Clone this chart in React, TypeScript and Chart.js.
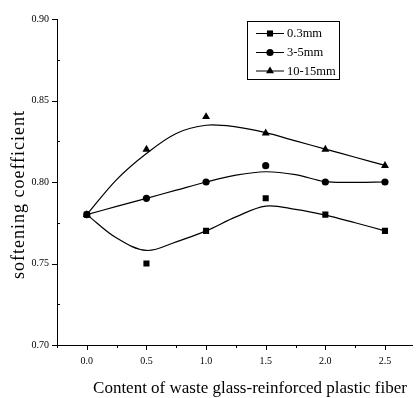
import React, { useEffect, useRef } from 'react';
import { Chart, registerables } from 'chart.js';

Chart.register(...registerables);

// measured data points
const xValues = [0.0, 0.5, 1.0, 1.5, 2.0, 2.5];
const series03 = [0.78, 0.75, 0.77, 0.79, 0.78, 0.77];
const series35 = [0.78, 0.79, 0.80, 0.81, 0.80, 0.80];
const series1015 = [0.78, 0.82, 0.84, 0.83, 0.82, 0.81];

// fitted curves
const fitX = [0, 0.25, 0.5, 0.75, 1.0, 1.25, 1.5, 1.75, 2.0, 2.25, 2.5];
const fit03 = [0.78, 0.7656, 0.758, 0.7633, 0.77, 0.7786, 0.7852, 0.7832, 0.7797, 0.775, 0.77];
const fit35 = [0.78, 0.785, 0.79, 0.795, 0.80, 0.8042, 0.8063, 0.8045, 0.8002, 0.7998, 0.80];
const fit1015 = [0.78, 0.8015, 0.8175, 0.8298, 0.8348, 0.8338, 0.8303, 0.8252, 0.8202, 0.8152, 0.8102];

const seriesLabels = ['0.3mm', '3-5mm', '10-15mm'];
const seriesMarkers = ['rect', 'circle', 'triangle'];

const xMajorTicks = [0.0, 0.5, 1.0, 1.5, 2.0, 2.5];
const xMinorTicks = [-0.25, 0.25, 0.75, 1.25, 1.75, 2.25];
const yMajorTicks = [0.70, 0.75, 0.80, 0.85, 0.90];
const yMinorTicks = [0.725, 0.775, 0.825, 0.875];

const xTitle = 'Content of waste glass-reinforced plastic fiber';
const yTitle = 'softening coefficient';

const SERIF = "'Liberation Serif', 'Times New Roman', serif";
const markerRadius: Record<string, number> = { rect: 4.3, circle: 3.6, triangle: 4.6 };

function drawMarker(ctx: CanvasRenderingContext2D, style: string, x: number, y: number) {
  const r = markerRadius[style];
  ctx.beginPath();
  if (style === 'rect') {
    const s = Math.SQRT1_2 * r;
    ctx.rect(x - s, y - s, 2 * s, 2 * s);
  } else if (style === 'circle') {
    ctx.arc(x, y, r, 0, Math.PI * 2);
  } else {
    const w = r * Math.sqrt(3) / 2;
    ctx.moveTo(x, y - r);
    ctx.lineTo(x + w, y + r / 2);
    ctx.lineTo(x - w, y + r / 2);
    ctx.closePath();
  }
  ctx.fill();
}

const decorPlugin = {
  id: 'decor',
  afterDraw(chart: any) {
    const ctx: CanvasRenderingContext2D = chart.ctx;
    const xs = chart.scales.x;
    const ys = chart.scales.y;
    const area = chart.chartArea;
    ctx.save();
    ctx.strokeStyle = '#000';
    ctx.fillStyle = '#000';
    ctx.lineWidth = 1;
    // tick marks
    ctx.beginPath();
    xMajorTicks.forEach((v) => {
      const px = Math.round(xs.getPixelForValue(v)) + 0.5;
      ctx.moveTo(px, area.bottom);
      ctx.lineTo(px, area.bottom + 5);
    });
    xMinorTicks.forEach((v) => {
      const px = Math.round(xs.getPixelForValue(v)) + 0.5;
      ctx.moveTo(px, area.bottom);
      ctx.lineTo(px, area.bottom + 3);
    });
    yMajorTicks.forEach((v) => {
      const py = Math.round(ys.getPixelForValue(v)) + 0.5;
      ctx.moveTo(area.left - 5, py);
      ctx.lineTo(area.left, py);
    });
    yMinorTicks.forEach((v) => {
      const py = Math.round(ys.getPixelForValue(v)) + 0.5;
      ctx.moveTo(area.left, py);
      ctx.lineTo(area.left + 3, py);
    });
    ctx.stroke();

    // axis titles
    ctx.font = `17px ${SERIF}`;
    ctx.textAlign = 'center';
    ctx.textBaseline = 'alphabetic';
    ctx.fillText(xTitle, 250, 393);
    ctx.save();
    ctx.translate(24, 195);
    ctx.rotate(-Math.PI / 2);
    ctx.font = `18px ${SERIF}`;
    (ctx as any).letterSpacing = '1px';
    ctx.fillText(yTitle, 0.5, 0);
    ctx.restore();

    // legend
    ctx.strokeRect(247.5, 21.5, 92, 58);
    ctx.font = `12.5px ${SERIF}`;
    ctx.textAlign = 'left';
    ctx.textBaseline = 'middle';
    const rows = [33, 52, 70.5];
    seriesLabels.forEach((label, i) => {
      const y = rows[i];
      ctx.beginPath();
      ctx.moveTo(256, y + 0.5);
      ctx.lineTo(284, y + 0.5);
      ctx.stroke();
      drawMarker(ctx, seriesMarkers[i], 270, y + 0.5);
      ctx.fillText(label, 287, y + 1);
    });
    ctx.restore();
  },
};

export default function App() {
  const ref = useRef<HTMLCanvasElement>(null);
  useEffect(() => {
    if (!ref.current) return;
    const toPts = (xsArr: number[], ysArr: number[]) => xsArr.map((x, i) => ({ x, y: ysArr[i] }));
    const fits = [fit03, fit35, fit1015];
    const pts = [series03, series35, series1015];
    const curveSets = fits.map((f, i) => ({
      type: 'line' as const,
      label: seriesLabels[i] + ' fit',
      data: toPts(fitX, f),
      borderColor: '#000',
      borderWidth: 1.2,
      pointRadius: 0,
      fill: false,
      tension: 0.35,
    }));
    const pointSets = pts.map((p, i) => ({
      type: 'scatter' as const,
      label: seriesLabels[i],
      data: toPts(xValues, p),
      showLine: false,
      pointStyle: seriesMarkers[i],
      pointRadius: markerRadius[seriesMarkers[i]],
      backgroundColor: '#000',
      borderColor: '#000',
      borderWidth: 0,
    }));
    const chart = new Chart(ref.current, {
      type: 'scatter',
      data: { datasets: [...curveSets, ...pointSets] as any },
      options: {
        animation: false,
        responsive: false,
        devicePixelRatio: 1,
        layout: { padding: { top: 19, right: 0, left: 0, bottom: 0 } },
        plugins: { legend: { display: false }, tooltip: { enabled: false } },
        scales: {
          x: {
            type: 'linear',
            min: -0.25,
            max: 2.73,
            afterBuildTicks: (s: any) => { s.ticks = xMajorTicks.map((v) => ({ value: v })); },
            afterFit: (s: any) => { s.height = 53; },
            grid: { display: false, drawTicks: false },
            border: { display: true, color: '#000', width: 1 },
            ticks: {
              color: '#000',
              font: { family: SERIF, size: 10 },
              padding: 10,
              maxRotation: 0,
              autoSkip: false,
              callback: (v: any) => Number(v).toFixed(1),
            },
          },
          y: {
            type: 'linear',
            min: 0.70,
            max: 0.90,
            afterBuildTicks: (s: any) => { s.ticks = yMajorTicks.map((v) => ({ value: v })); },
            afterFit: (s: any) => { s.width = 57; },
            grid: { display: false, drawTicks: false },
            border: { display: true, color: '#000', width: 1 },
            ticks: {
              color: '#000',
              font: { family: SERIF, size: 10 },
              padding: 8,
              autoSkip: false,
              callback: (v: any) => Number(v).toFixed(2),
            },
          },
        },
      },
      plugins: [decorPlugin],
    });
    return () => chart.destroy();
  }, []);
  return (
    <div style={{ position: 'absolute', left: 0, top: 0, width: 417, height: 398, background: '#fff' }}>
      <canvas ref={ref} width={417} height={398} style={{ display: 'block' }} />
    </div>
  );
}
